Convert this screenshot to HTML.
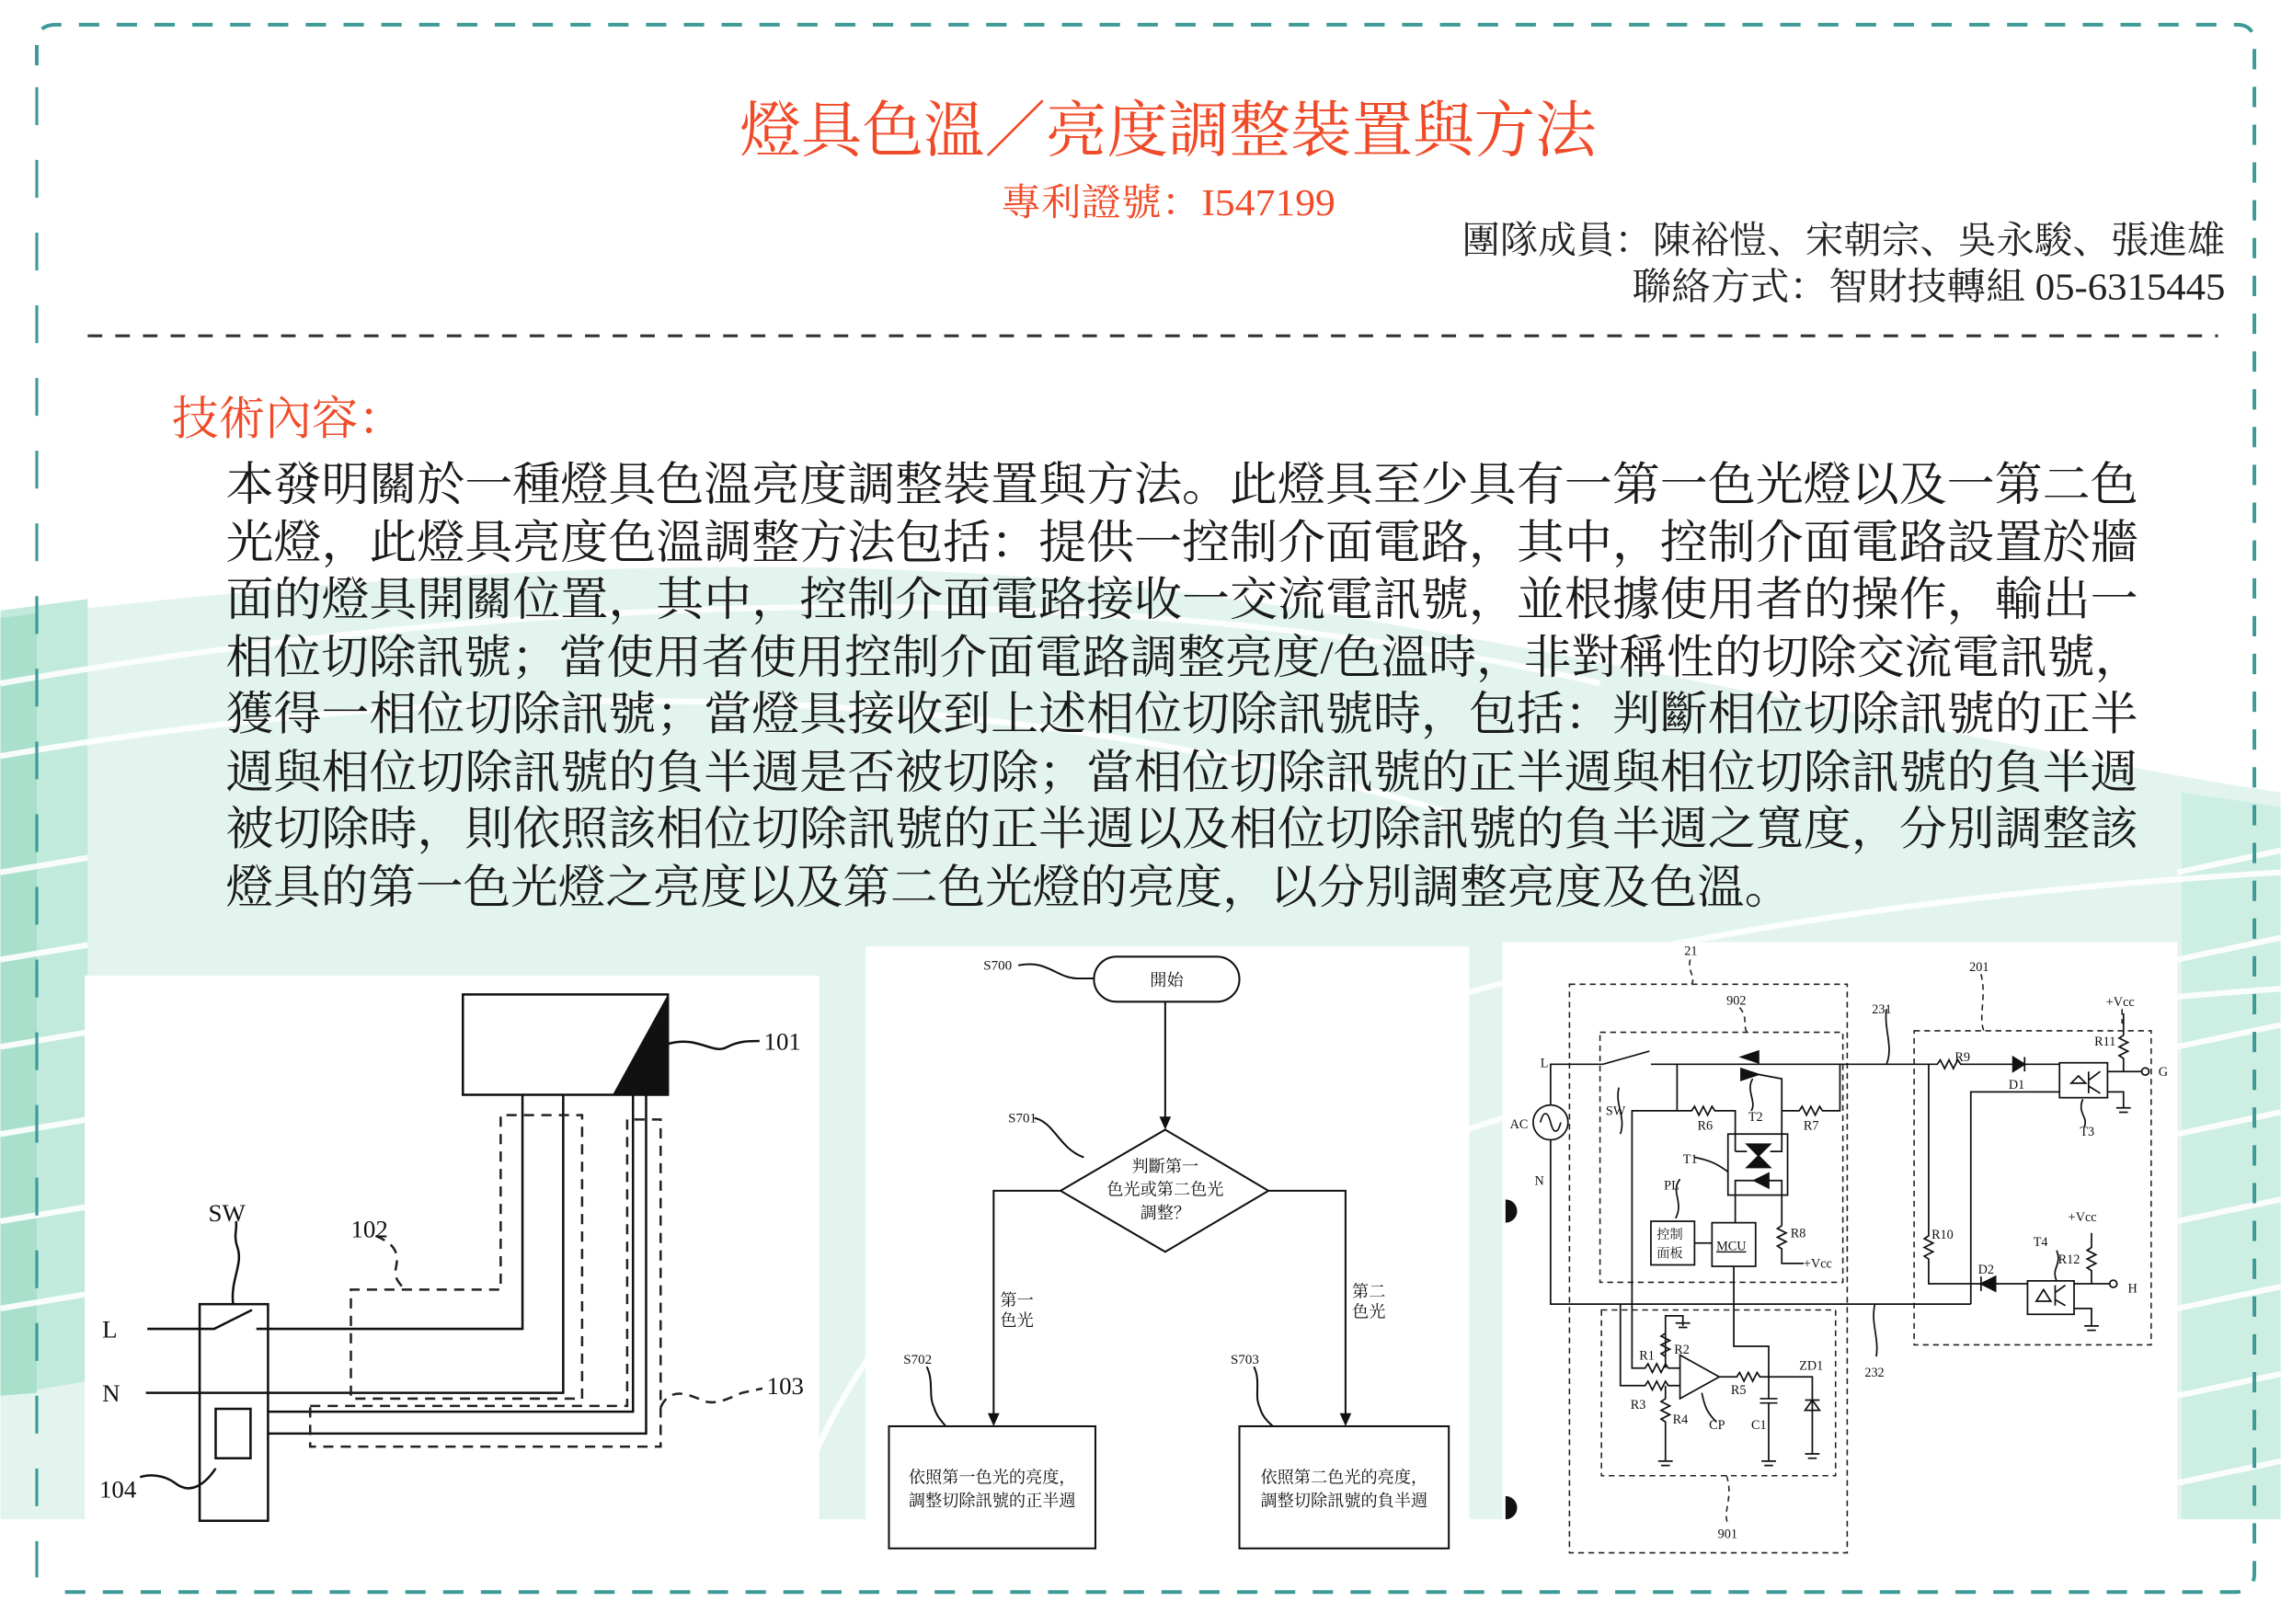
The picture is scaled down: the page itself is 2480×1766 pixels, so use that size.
<!DOCTYPE html>
<html><head><meta charset="utf-8">
<style>
html,body{margin:0;padding:0;background:#fff;}
svg{display:block;}
.ser{font-family:"Liberation Serif","Noto Serif CJK SC",serif;}
</style></head>
<body>
<svg width="2480" height="1766" viewBox="0 0 1568 1117" xmlns="http://www.w3.org/2000/svg">
<!-- background waves -->
<path d="M0,425 C300,390 600,370 900,420 C1150,460 1400,520 1568,545 L1568,1045 L0,1045 Z" fill="#e3f4ef"/>
<path d="M0,960 L0,420 L60,412 L60,950 Z" fill="#c2eadc"/>
<path d="M0,960 L0,425 L25,422 L25,958 Z" fill="#a9e0cb"/>
<path d="M1500,545 L1568,555 L1568,1045 L1500,1045 Z" fill="#cdeee3"/>
<g fill="none" stroke="#fff" stroke-width="4" opacity="0.9">
<path d="M0,470 C400,400 800,400 1100,470"/>
<path d="M0,520 C350,460 700,470 1000,560"/>
<path d="M560,1000 C650,800 900,640 1568,600"/>
<path d="M700,1000 C780,850 1000,720 1568,680"/>
<path d="M0,600 L60,590 M0,660 L60,650 M0,720 L60,710 M0,780 L60,770 M0,840 L60,830 M0,900 L60,890"/>
<path d="M1497,600 L1568,585 M1497,660 L1568,645 M1497,720 L1568,705 M1497,780 L1568,765 M1497,840 L1568,825 M1497,900 L1568,885 M1497,960 L1568,945 M1497,1020 L1568,1005"/>
</g>
<!-- panels -->
<rect x="58" y="671" width="505" height="414" fill="#fff"/>
<rect x="595" y="651" width="415" height="432" fill="#fff"/>
<rect x="1033" y="648" width="464" height="430" fill="#fff"/>
<rect x="0" y="1045" width="1568" height="72" fill="#fff"/>
<!-- outer border -->
<path d="M25,45 L25,30 Q25,17 38,17 L1538,17 Q1550,17 1550,30 L1550,1082 Q1550,1095 1537,1095 L38,1095" fill="none" stroke="#3d9a96" stroke-width="2.5" stroke-dasharray="14,12"/>
<line x1="25" y1="60" x2="25" y2="1085" stroke="#3d9a96" stroke-width="2" stroke-dasharray="26,24"/>
<line x1="60" y1="231" x2="1525" y2="231" stroke="#333" stroke-width="2" stroke-dasharray="10,9"/>
<!-- header text -->
<text x="803" y="104" text-anchor="middle" class="ser" font-size="42" fill="#f04a28" textLength="589" lengthAdjust="spacingAndGlyphs">燈具色溫／亮度調整裝置與方法</text>
<text x="803" y="148" text-anchor="middle" class="ser" font-size="26" fill="#f04a28" textLength="230" lengthAdjust="spacingAndGlyphs">專利證號：I547199</text>
<text x="1530" y="174" text-anchor="end" class="ser" font-size="26" fill="#222" textLength="525" lengthAdjust="spacingAndGlyphs">團隊成員：陳裕愷、宋朝宗、吳永駿、張進雄</text>
<text x="1530" y="206" text-anchor="end" class="ser" font-size="26" fill="#222" textLength="408" lengthAdjust="spacingAndGlyphs">聯絡方式：智財技轉組 05-6315445</text>
<text x="118" y="299" class="ser" font-size="32" fill="#f04a28" textLength="160" lengthAdjust="spacingAndGlyphs">技術內容：</text>
<g class="ser" font-size="32" fill="#1a1a1a">
<text x="155" y="344" textLength="1315" lengthAdjust="spacingAndGlyphs">本發明關於一種燈具色溫亮度調整裝置與方法。此燈具至少具有一第一色光燈以及一第二色</text>
<text x="155" y="384" textLength="1315" lengthAdjust="spacingAndGlyphs">光燈，此燈具亮度色溫調整方法包括：提供一控制介面電路，其中，控制介面電路設置於牆</text>
<text x="155" y="423" textLength="1315" lengthAdjust="spacingAndGlyphs">面的燈具開關位置，其中，控制介面電路接收一交流電訊號，並根據使用者的操作，輸出一</text>
<text x="155" y="463" textLength="1318" lengthAdjust="spacingAndGlyphs">相位切除訊號；當使用者使用控制介面電路調整亮度/色溫時，非對稱性的切除交流電訊號，</text>
<text x="155" y="502" textLength="1315" lengthAdjust="spacingAndGlyphs">獲得一相位切除訊號；當燈具接收到上述相位切除訊號時，包括：判斷相位切除訊號的正半</text>
<text x="155" y="542" textLength="1315" lengthAdjust="spacingAndGlyphs">週與相位切除訊號的負半週是否被切除；當相位切除訊號的正半週與相位切除訊號的負半週</text>
<text x="155" y="581" textLength="1315" lengthAdjust="spacingAndGlyphs">被切除時，則依照該相位切除訊號的正半週以及相位切除訊號的負半週之寬度，分別調整該</text>
<text x="155" y="621" textLength="1077" lengthAdjust="spacingAndGlyphs">燈具的第一色光燈之亮度以及第二色光燈的亮度，以分別調整亮度及色溫。</text>
</g>

<!-- Panel 1 -->
<g fill="none" stroke="#111" stroke-width="1.6">
<rect x="318" y="684" width="141" height="69"/>
<path d="M459,718 C480,712 490,726 500,720 C508,716 515,716 522,716"/>
<rect x="137" y="897" width="47" height="149"/>
<rect x="148" y="969" width="24" height="34"/>
<path d="M101,914 L147,914 L173,901"/>
<path d="M176,914 L359,914 L359,753"/>
<path d="M100,958 L387,958 L387,753"/>
<path d="M184,971 L435,971 L435,753"/>
<path d="M184,986 L444,986 L444,753"/>
<path d="M160,897 C158,880 167,870 163,858 C160,850 163,845 162,840"/>
<path d="M148,1010 C140,1022 130,1028 120,1020 C112,1014 102,1014 96,1016"/>
</g>
<polygon points="421,753 459,684 459,753" fill="#111"/>
<g fill="none" stroke="#222" stroke-width="1.6" stroke-dasharray="7,5">
<path d="M241,960 L241,887 L344,887 L344,767 L400,767 L400,962 L241,962"/>
<path d="M213,967 L431,967 L431,770 L454,770 L454,995 L213,995 Z"/>
<path d="M258,850 C272,856 274,862 272,872 C270,880 276,884 278,887"/>
<path d="M454,968 C460,955 470,958 480,962 C490,968 500,962 510,958 L524,955"/>
</g>
<g class="ser" font-size="17" fill="#111">
<text x="525" y="722">101</text>
<text x="143" y="840">SW</text>
<text x="241" y="851">102</text>
<text x="527" y="959">103</text>
<text x="68" y="1030">104</text>
<text x="70" y="920">L</text>
<text x="70" y="964">N</text>
</g>

<!-- Panel 2 flowchart -->
<g fill="none" stroke="#111" stroke-width="1.3">
<rect x="752" y="658" width="100" height="31" rx="15.5"/>
<line x1="801" y1="689" x2="801" y2="772"/>
<polygon points="801,777 872,819 801,861 729,819"/>
<path d="M729,819 L683,819 L683,976"/>
<path d="M872,819 L925,819 L925,976"/>
<rect x="611" y="981" width="142" height="84"/>
<rect x="852" y="981" width="144" height="84"/>
<path d="M700,664 C720,660 725,672 740,673 L752,673"/>
<path d="M711,769 C725,772 728,790 745,796"/>
<path d="M637,940 C642,950 638,960 642,968 C644,975 648,978 650,981"/>
<path d="M862,940 C867,950 862,960 866,968 C868,975 872,978 875,981"/>
</g>
<g fill="#111">
<polygon points="801,777 797,768 805,768"/>
<polygon points="683,981 679,972 687,972"/>
<polygon points="925,981 921,972 929,972"/>
</g>
<g font-size="11.5" fill="#111" text-anchor="middle" class="ser">
<text x="802" y="678">開始</text>
<text x="801" y="806">判斷第一</text>
<text x="801" y="822">色光或第二色光</text>
<text x="801" y="838">調整？</text>
<text x="682" y="1020">依照第一色光的亮度，</text>
<text x="682" y="1036">調整切除訊號的正半週</text>
<text x="924" y="1020">依照第二色光的亮度，</text>
<text x="924" y="1036">調整切除訊號的負半週</text>
<text x="699" y="898">第一</text>
<text x="699" y="912">色光</text>
<text x="941" y="892">第二</text>
<text x="941" y="906">色光</text>
</g>
<g class="ser" font-size="9.5" fill="#111">
<text x="676" y="667">S700</text>
<text x="693" y="772">S701</text>
<text x="621" y="938">S702</text>
<text x="846" y="938">S703</text>
</g>

<!-- Panel 3 circuit -->
<g fill="none" stroke="#222" stroke-width="1" stroke-dasharray="4,3">
<rect x="1079" y="677" width="191" height="391"/>
<rect x="1100" y="710" width="167" height="172"/>
<rect x="1101" y="901" width="161" height="114"/>
<rect x="1316" y="709" width="163" height="216"/>
<path d="M1162,660 C1160,668 1166,672 1163,677"/>
<path d="M1196,693 C1202,700 1198,705 1201,710"/>
<path d="M1362,670 C1366,685 1360,700 1364,709"/>
<path d="M1459,694 L1459,704"/>
<path d="M1187,1015 C1192,1030 1184,1040 1188,1048"/>
</g>
<g fill="none" stroke="#111" stroke-width="1.1">
<path d="M1066,760 L1066,732 L1102,732 L1134,723"/>
<circle cx="1066" cy="772" r="12"/>
<path d="M1059,772 C1061,764 1064,764 1066,772 C1068,780 1071,780 1073,772"/>
<path d="M1066,784 L1066,897 L1355,897"/>
<path d="M1135,732 L1330,732"/>
<path d="M1330,732 L1332,732 l2,-3 l3,6 l3,-6 l3,6 l3,-6 l2,3 L1384,732"/>
<path d="M1392,732 L1416,732"/>
<polygon points="1384,727 1384,737 1392,732" fill="#111"/>
<line x1="1392" y1="727" x2="1392" y2="737"/>
<polygon points="1197,727 1209,723 1209,731" fill="#111"/>
<polygon points="1197,735 1197,743 1209,739" fill="#111"/>
<path d="M1209,739 L1225,742 L1225,780"/>
<path d="M1153,732 L1153,764"/>
<path d="M1122,936 L1122,764 L1163,764 l2,-3 l3,6 l3,-6 l3,6 l3,-6 l2,3 L1193,764 L1193,792"/>
<path d="M1225,764 L1237,764 l2,-3 l3,6 l3,-6 l3,6 l3,-6 l2,3 L1265,764 L1265,732"/>
<rect x="1188" y="780" width="41" height="42"/>
<path d="M1193,792 L1201,792 M1217,792 L1225,792 L1225,780"/>
<polygon points="1201,787 1217,787 1209,795" fill="#111"/>
<polygon points="1201,803 1217,803 1209,795" fill="#111"/>
<path d="M1193,822 L1193,812 L1225,812 L1225,825"/>
<polygon points="1216,807 1216,817 1206,812" fill="#111"/>
<path d="M1193,822 L1193,841"/>
<rect x="1177" y="841" width="30" height="30"/>
<rect x="1135" y="840" width="30" height="30"/>
<path d="M1165,855 L1177,855"/>
<path d="M1225,825 L1225,843 l-3,2 l6,3 l-6,3 l6,3 l-6,3 l3,2 L1225,869 L1240,869"/>
<path d="M1192,871 L1192,926 L1216,926 L1216,947"/>
<path d="M1155,811 C1148,820 1158,826 1152,838"/>
<path d="M1165,796 C1175,798 1180,800 1188,806"/>
<path d="M1113,748 C1110,760 1118,768 1114,780"/>
<path d="M1205,742 C1200,750 1208,758 1204,764"/>
<path d="M1122,936 L1122,941 L1131,941 l2,-3 l3,6 l3,-6 l3,6 l3,-6 l2,3 L1155,941"/>
<path d="M1114,897 L1114,953 L1131,953 l2,-3 l3,6 l3,-6 l3,6 l3,-6 l2,3 L1155,953"/>
<polygon points="1155,932 1155,962 1182,947"/>
<path d="M1182,947 L1194,947 l2,-3 l3,6 l3,-6 l3,6 l3,-6 l2,3 L1246,947 L1246,1000"/>
<path d="M1145,941 L1145,916 M1145,933 l-3,-2 l6,-3 l-6,-3 l6,-3 l-6,-3 l3,-2 L1145,905 L1157,905 L1157,912"/>
<path d="M1152,910 L1162,910 M1154,913 L1160,913"/>
<path d="M1145,953 L1145,962 l-3,2 l6,3 l-6,3 l6,3 l-6,3 l3,2 L1145,1005"/>
<path d="M1140,1005 L1150,1005 M1142,1008 L1148,1008"/>
<path d="M1216,947 L1216,962 M1210,962 L1222,962 M1210,965 L1222,965 M1216,965 L1216,1005 M1211,1005 L1221,1005 M1213,1008 L1219,1008"/>
<path d="M1246,963 L1241,970 L1251,970 Z M1241,963 L1251,963 M1241,1000 L1251,1000 M1243,1003 L1249,1003"/>
<path d="M1170,958 C1172,968 1174,972 1180,978"/>
<path d="M1326,732 L1326,850 l-3,2 l6,3 l-6,3 l6,3 l-6,3 l3,2 L1326,883 L1362,883"/>
<polygon points="1372,878 1372,888 1362,883" fill="#111"/>
<line x1="1362" y1="878" x2="1362" y2="888"/>
<path d="M1372,883 L1394,883"/>
<path d="M1355,897 L1355,751 L1416,751"/>
<rect x="1416" y="731" width="33" height="24"/>
<path d="M1449,737 L1472,737"/>
<circle cx="1475" cy="737" r="2.5"/>
<path d="M1449,751 L1460,751 L1460,762 M1455,762 L1465,762 M1457,765 L1463,765"/>
<path d="M1460,697 L1460,712 l-3,2 l6,3 l-6,3 l6,3 l-6,3 l3,2 L1460,737"/>
<path d="M1424,745 l5,-5 l5,5 z M1436,737 L1436,752 M1436,743 L1444,737 M1436,747 L1444,752"/>
<rect x="1394" y="881" width="32" height="23"/>
<path d="M1426,883 L1451,883"/>
<circle cx="1453" cy="883" r="2.5"/>
<path d="M1438,848 L1438,858 l-3,2 l6,3 l-6,3 l6,3 l-6,3 l3,2 L1438,883"/>
<path d="M1426,900 L1438,900 L1438,912 M1433,912 L1443,912 M1435,915 L1441,915"/>
<path d="M1400,895 l5,-8 l5,8 z M1413,884 L1413,898 M1413,889 L1420,884 M1413,894 L1420,898"/>
<path d="M1432,756 C1428,766 1436,768 1433,775"/>
<path d="M1414,860 C1418,870 1410,872 1414,881"/>
<path d="M1297,694 C1295,708 1302,720 1297,732"/>
<path d="M1290,933 C1292,920 1286,910 1289,897"/>
</g>
<g fill="#111">
<path d="M1035,825 A8,8 0 0 1 1035,841 Z"/>
<path d="M1035,1029 A8,8 0 0 1 1035,1045 Z"/>
</g>
<g class="ser" font-size="9" fill="#111">
<text x="1158" y="657">21</text>
<text x="1354" y="668">201</text>
<text x="1187" y="691">902</text>
<text x="1287" y="697">231</text>
<text x="1448" y="692">+Vcc</text>
<text x="1440" y="719">R11</text>
<text x="1344" y="730">R9</text>
<text x="1381" y="749">D1</text>
<text x="1484" y="740">G</text>
<text x="1430" y="781">T3</text>
<text x="1059" y="734">L</text>
<text x="1038" y="776">AC</text>
<text x="1055" y="815">N</text>
<text x="1104" y="767">SW</text>
<text x="1167" y="777">R6</text>
<text x="1202" y="771">T2</text>
<text x="1240" y="777">R7</text>
<text x="1157" y="800">T1</text>
<text x="1144" y="818">PL</text>
<text x="1231" y="851">R8</text>
<text x="1240" y="872">+Vcc</text>
<text x="1180" y="860" text-decoration="underline">MCU</text>
<text x="1139" y="852">控制</text>
<text x="1139" y="865">面板</text>
<text x="1328" y="852">R10</text>
<text x="1422" y="840">+Vcc</text>
<text x="1398" y="857">T4</text>
<text x="1415" y="869">R12</text>
<text x="1360" y="876">D2</text>
<text x="1463" y="889">H</text>
<text x="1127" y="935">R1</text>
<text x="1151" y="931">R2</text>
<text x="1237" y="942">ZD1</text>
<text x="1190" y="959">R5</text>
<text x="1121" y="969">R3</text>
<text x="1150" y="979">R4</text>
<text x="1175" y="983">CP</text>
<text x="1204" y="983">C1</text>
<text x="1282" y="947">232</text>
<text x="1181" y="1058">901</text>
</g>
</svg>
</body></html>
